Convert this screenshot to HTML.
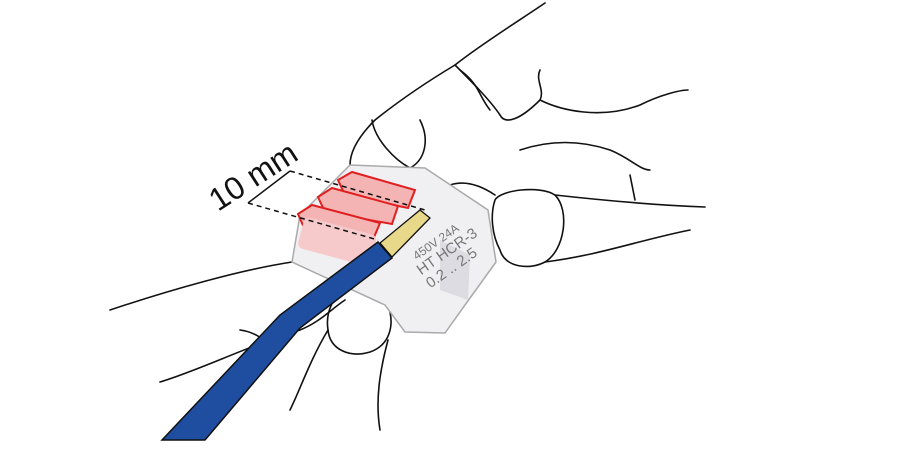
<!DOCTYPE html>
<html><head><style>html,body{margin:0;padding:0;background:#fff;width:900px;height:468px;overflow:hidden}</style></head>
<body>
<svg width="900" height="468" viewBox="0 0 900 468" xmlns="http://www.w3.org/2000/svg">
<g fill="none" stroke="#111" stroke-width="1.6" stroke-linecap="round" stroke-linejoin="round">
<path d="M545 3 C520 20 480 45 455 65 C430 80 400 100 375 120 C360 135 350 150 350 165"/>
<path d="M372 120 C375 140 395 160 410 168 C425 160 430 140 420 120"/>
<path d="M455 65 C470 80 490 100 500 115 C505 125 520 120 540 100 C545 90 535 80 540 70"/>
<path d="M460 70 C480 85 478 95 490 110"/>
<path d="M540 100 C560 110 600 120 640 105 C660 95 680 90 688 90"/>
<path d="M520 150 C550 140 580 140 610 150 C630 158 640 170 650 170"/>
<path d="M630 175 L635 200"/>
<path d="M450 185 C465 180 480 185 495 195"/>
<path d="M495 200 C500 190 540 185 555 195 C570 210 565 250 545 262 C530 270 505 268 500 250 C492 235 490 215 495 200 Z"/>
<path d="M555 195 C600 200 650 205 705 207"/>
<path d="M545 262 C600 255 640 240 690 230"/>
<path d="M110 310 C170 290 240 270 292 262"/>
<path d="M160 382 C200 370 250 345 300 330 C320 322 330 310 345 300"/>
<path d="M345 290 C355 280 380 285 388 305 C395 325 390 345 370 352 C350 358 330 350 328 330 C325 310 335 295 345 290 Z"/>
<path d="M328 330 C310 360 300 390 290 410"/>
<path d="M388 340 C380 370 375 400 380 430"/>
<path d="M240 330 C255 332 265 340 268 345"/>
</g>
<path d="M300 215 L350 165 L425 168 L488 210 L496 262 L465 305 L445 333 L405 332 L385 305 L292 262 Z" fill="#f0f0f3" stroke="#aaa" stroke-width="1.5"/>
<path d="M440 240 L470 255 L468 300 L440 290 Z" fill="#dcdce2"/>
<g fill="#f4b4b4" stroke="#e02020" stroke-width="2">
<path d="M338 180 L352 172 L415 190 L408 208 L345 195 Z"/>
<path d="M318 197 L332 188 L398 206 L392 224 L325 212 Z"/>
<path d="M298 214 L312 205 L380 223 L372 242 L305 230 Z"/>
</g>
<rect x="300" y="225" width="75" height="32" rx="6" fill="#f6caca" transform="rotate(15 335 240)"/>
<g font-family="Liberation Sans, sans-serif" fill="#777" font-size="12" transform="rotate(-35 440 250)">
<text x="415" y="245">450V 24A</text><text x="410" y="260" font-size="15">HT HCR-3</text><text x="410" y="276" font-size="15">0.2 .. 2.5</text>
</g>
<path d="M162 440 L205 440 L300 328 L392 258 L378 242 L280 315 Z" fill="#1f4ea0" stroke="#111" stroke-width="1.5"/>
<path d="M380 243 L420 210 L430 218 L392 257 Z" fill="#e8d88a" stroke="#111" stroke-width="1.3"/>
<g stroke="#111" stroke-width="1.5">
<line x1="290" y1="171" x2="248" y2="203"/>
<line x1="290" y1="171" x2="425" y2="210" stroke-dasharray="5,4"/>
<line x1="248" y1="203" x2="378" y2="240" stroke-dasharray="5,4"/>
</g>
<text x="0" y="0" font-family="Liberation Sans, sans-serif" font-size="32" fill="#111" transform="translate(218 212) rotate(-33)">10 mm</text>
</svg>
</body></html>
